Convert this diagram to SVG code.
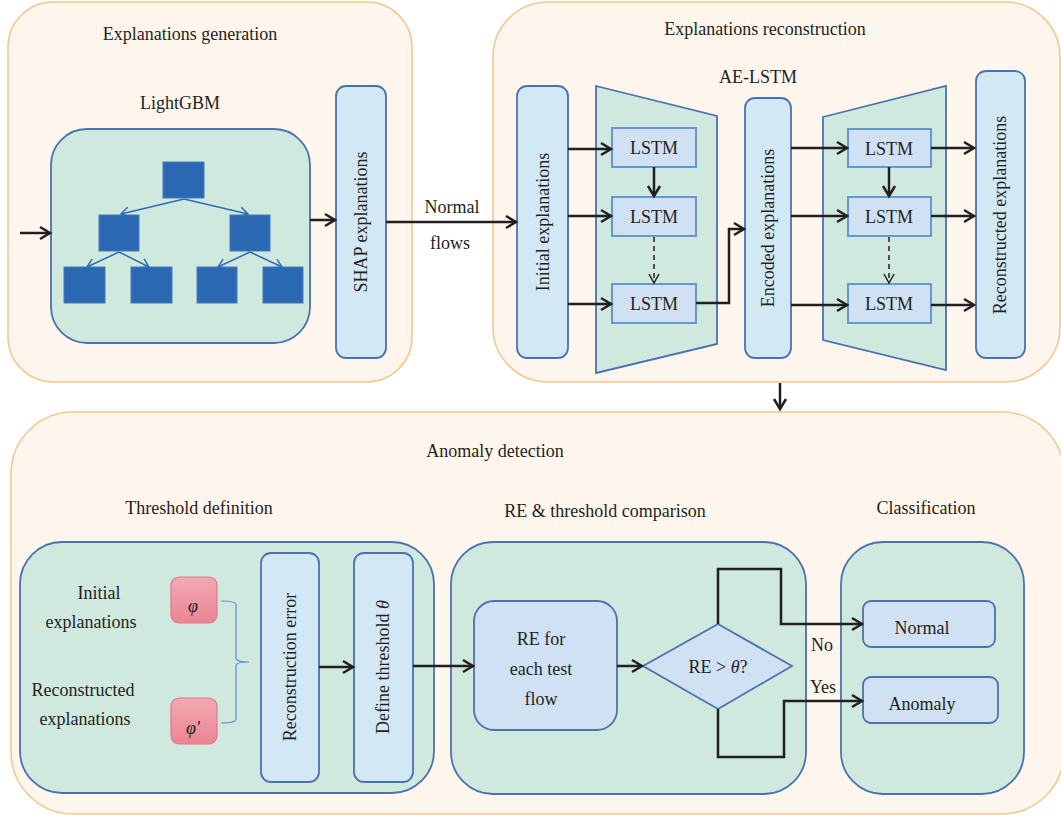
<svg xmlns="http://www.w3.org/2000/svg" width="1061" height="817" viewBox="0 0 1061 817" font-family="'Liberation Serif', 'DejaVu Serif', serif">
<style>
text{font-family:"Liberation Serif","DejaVu Serif",serif;font-size:18px;fill:#231f20;}
.c{text-anchor:middle;}
.panel{fill:#fef6ec;stroke:#f6c58d;stroke-width:1.5;}
.green{fill:#d0e9df;stroke:#4a72b0;stroke-width:1.8;}
.col{fill:#d2e8f5;stroke:#4a72b0;stroke-width:1.8;}
.lstm{fill:#d0e1f3;stroke:#5a90d0;stroke-width:1.8;}
.bx{fill:#d0e1f3;stroke:#4a72b0;stroke-width:1.8;}
.leaf{fill:#2a68b2;stroke:#4a78b8;stroke-width:1;}
.tl{stroke:#2f6cb8;stroke-width:1.5;fill:none;marker-end:url(#ab);}
.ar{stroke:#231f20;stroke-width:2.5;fill:none;marker-end:url(#ak);}
.dash{stroke:#231f20;stroke-width:1.5;fill:none;stroke-dasharray:5,4;marker-end:url(#akt);}
.phi{fill:url(#pg);stroke:#e07a8a;stroke-width:1.2;}
</style>
<defs>
<marker id="ak" markerUnits="userSpaceOnUse" markerWidth="16" markerHeight="16" refX="12" refY="8" orient="auto"><path d="M2,2 L12,8 L2,14" fill="none" stroke="#231f20" stroke-width="2.5"/></marker>
<marker id="akt" markerUnits="userSpaceOnUse" markerWidth="16" markerHeight="16" refX="12" refY="8" orient="auto"><path d="M3,3 L12,8 L3,13" fill="none" stroke="#231f20" stroke-width="1.5"/></marker>
<marker id="ab" markerUnits="userSpaceOnUse" markerWidth="14" markerHeight="14" refX="10" refY="7" orient="auto"><path d="M2,2 L10,7 L2,12" fill="none" stroke="#2f6cb8" stroke-width="1.5"/></marker>
<linearGradient id="pg" x1="0" y1="0" x2="0" y2="1"><stop offset="0" stop-color="#f2aab3"/><stop offset="1" stop-color="#ea8592"/></linearGradient>
</defs>

<g id="panel-generation">
<rect class="panel" x="8" y="2" width="404" height="380" rx="45"/>
<text class="c" x="190" y="40">Explanations generation</text>
<text class="c" x="180" y="109">LightGBM</text>
</g>
<g id="lightgbm">
<rect class="green" x="51" y="129" width="259" height="214" rx="36"/>
<rect class="leaf" x="163" y="162" width="41" height="36"/>
<rect class="leaf" x="99" y="215" width="40" height="36"/>
<rect class="leaf" x="230" y="215" width="40" height="36"/>
<rect class="leaf" x="64" y="267" width="41" height="36"/>
<rect class="leaf" x="131" y="267" width="41" height="36"/>
<rect class="leaf" x="197" y="267" width="40" height="36"/>
<rect class="leaf" x="263" y="267" width="40" height="36"/>
<path class="tl" d="M184,199 L121,214"/>
<path class="tl" d="M184,199 L248,214"/>
<path class="tl" d="M119,252 L87,267"/>
<path class="tl" d="M119,252 L149,267"/>
<path class="tl" d="M250,252 L218,267"/>
<path class="tl" d="M250,252 L282,267"/>
</g>
<g id="shap">
<rect class="col" x="336" y="86" width="50" height="272" rx="10"/>
<text class="c" transform="translate(361,222) rotate(-90)" dy="6">SHAP explanations</text>
</g>

<g id="panel-reconstruction">
<rect class="panel" x="493" y="2" width="567" height="380" rx="55"/>
<text class="c" x="765" y="35">Explanations reconstruction</text>
<text class="c" x="758" y="83">AE-LSTM</text>
</g>
<g id="initial">
<rect class="col" x="517" y="86" width="51" height="272" rx="10"/>
<text class="c" transform="translate(543,222) rotate(-90)" dy="6">Initial explanations</text>
</g>
<g id="encoder">
<polygon fill="#d0e9df" stroke="#4a72b0" stroke-width="1.8" points="596,86 717,116 717,344 596,373"/>
<rect class="lstm" x="612" y="128" width="84" height="39"/>
<text class="c" x="654" y="154">LSTM</text>
<rect class="lstm" x="612" y="197" width="84" height="39"/>
<text class="c" x="654" y="223">LSTM</text>
<rect class="lstm" x="612" y="284" width="84" height="39"/>
<text class="c" x="654" y="310">LSTM</text>
</g>
<g id="encoded">
<rect class="col" x="745" y="98" width="46" height="260" rx="10"/>
<text class="c" transform="translate(768,228) rotate(-90)" dy="6">Encoded explanations</text>
</g>
<g id="decoder">
<polygon fill="#d0e9df" stroke="#4a72b0" stroke-width="1.8" points="823,117 946,86 946,370 823,340"/>
<rect class="lstm" x="848" y="129" width="83" height="38"/>
<text class="c" x="889" y="155">LSTM</text>
<rect class="lstm" x="848" y="197" width="83" height="39"/>
<text class="c" x="889" y="223">LSTM</text>
<rect class="lstm" x="848" y="284" width="83" height="39"/>
<text class="c" x="889" y="310">LSTM</text>
</g>
<g id="reconstructed">
<rect class="col" x="976" y="71" width="49" height="287" rx="10"/>
<text class="c" transform="translate(1000,215) rotate(-90)" dy="6">Reconstructed explanations</text>
</g>

<g id="panel-anomaly">
<rect class="panel" x="11" y="412" width="1053" height="402" rx="62"/>
<text class="c" x="495" y="457">Anomaly detection</text>
<text class="c" x="199" y="514">Threshold definition</text>
<text class="c" x="605" y="517">RE &amp; threshold comparison</text>
<text class="c" x="926" y="514">Classification</text>
</g>
<g id="threshold-definition">
<rect class="green" x="20" y="542" width="414" height="251" rx="42"/>
<text class="c" x="99" y="599">Initial</text>
<text class="c" x="91" y="628">explanations</text>
<text class="c" x="83" y="696">Reconstructed</text>
<text class="c" x="85" y="725">explanations</text>
<rect class="phi" x="171" y="577" width="46" height="46" rx="8"/>
<text class="c" x="193" y="612" font-style="italic">φ</text>
<rect class="phi" x="171" y="698" width="46" height="46" rx="8"/>
<text class="c" x="193" y="734" font-style="italic">φ′</text>
<path d="M221,601 Q236,601 236,605 V658 Q236,662 249,662 Q236,662 236,666 V719 Q236,723 221,723" fill="none" stroke="#5b8fd0" stroke-width="1.2"/>
</g>
<g id="reconstruction-error">
<rect class="col" x="261" y="553" width="58" height="229" rx="10"/>
<text class="c" transform="translate(290,667) rotate(-90)" dy="6">Reconstruction error</text>
</g>
<g id="define-threshold">
<rect class="col" x="354" y="553" width="59" height="229" rx="10"/>
<text class="c" transform="translate(383,667) rotate(-90)" dy="6">Define threshold <tspan font-style="italic">θ</tspan></text>
</g>
<g id="re-comparison">
<rect class="green" x="451" y="542" width="355" height="252" rx="42"/>
<rect class="bx" x="474" y="601" width="143" height="129" rx="20"/>
<text class="c" x="541" y="645">RE for</text>
<text class="c" x="541" y="675">each test</text>
<text class="c" x="541" y="705">flow</text>
</g>
<g id="decision">
<polygon class="bx" points="643,666 718,624 792,666 718,709"/>
<text class="c" x="718" y="673">RE &gt; <tspan font-style="italic">θ</tspan>?</text>
</g>
<g id="classification">
<rect class="green" x="841" y="542" width="183" height="252" rx="42"/>
<rect class="bx" x="863" y="601" width="132" height="46" rx="8"/>
<text class="c" x="922" y="634">Normal</text>
<rect class="bx" x="863" y="677" width="135" height="46" rx="8"/>
<text class="c" x="922" y="710">Anomaly</text>
</g>

<g id="connectors">
<path class="ar" d="M20,233 H50"/>
<path class="ar" d="M310,220 H335"/>
<path class="ar" d="M386,222 H516"/>
<text class="c" x="452" y="213">Normal</text>
<text class="c" x="450" y="249">flows</text>
<path class="ar" d="M568,149 H611"/>
<path class="ar" d="M568,216 H611"/>
<path class="ar" d="M568,304 H611"/>
<path class="ar" d="M654,167 V196"/>
<path class="dash" d="M654,237 V283"/>
<path class="ar" d="M696,303 H729 V229 H744"/>
<path class="ar" d="M791,148 H847"/>
<path class="ar" d="M791,216 H847"/>
<path class="ar" d="M791,305 H847"/>
<path class="ar" d="M889,167 V196"/>
<path class="dash" d="M889,237 V283"/>
<path class="ar" d="M931,148 H974"/>
<path class="ar" d="M931,216 H974"/>
<path class="ar" d="M931,305 H974"/>
<path class="ar" d="M780,383 V409"/>
<path class="ar" d="M319,667 H353"/>
<path class="ar" d="M413,666 H473"/>
<path class="ar" d="M617,666 H642"/>
<path class="ar" d="M718,624 V569 H781 V624 H862"/>
<path class="ar" d="M718,709 V757 H784 V701 H862"/>
<text class="c" x="822" y="651">No</text>
<text class="c" x="823" y="693">Yes</text>
</g>
</svg>
